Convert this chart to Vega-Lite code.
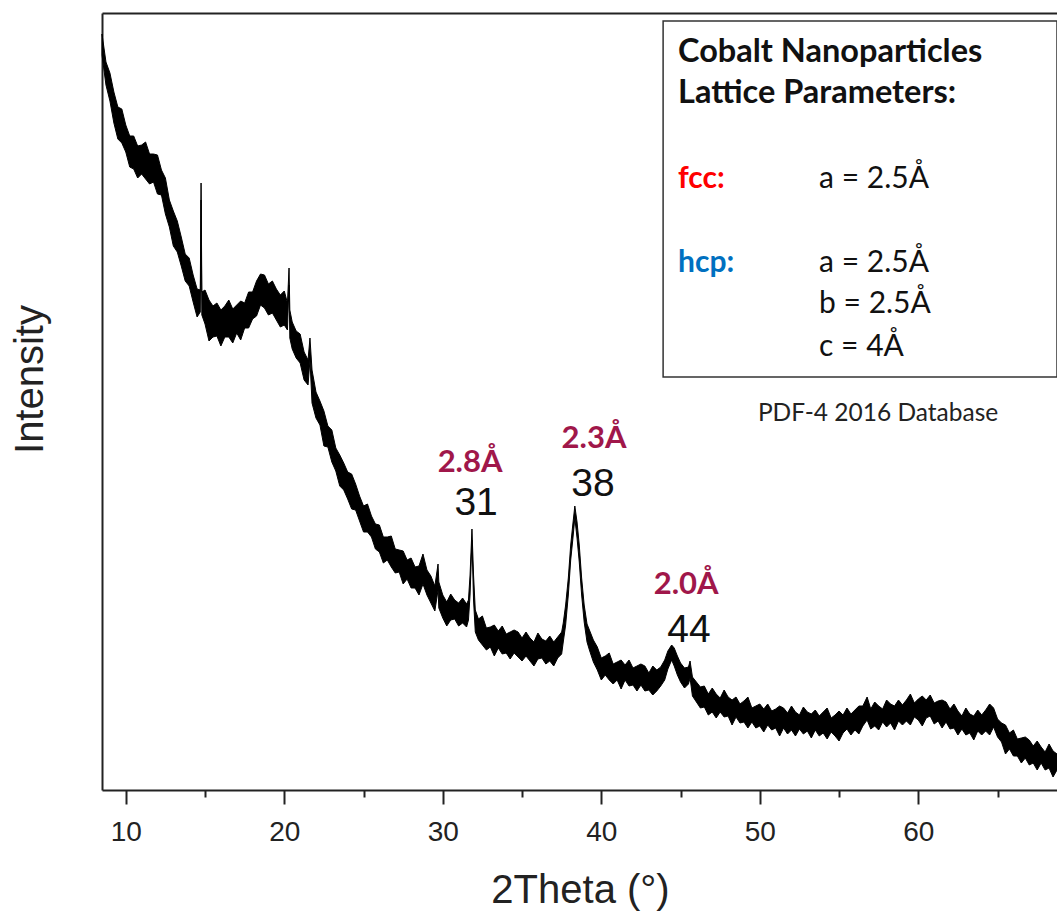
{
 "$schema": "https://vega.github.io/schema/vega-lite/v6.json",
 "width": 955, "height": 777,
 "autosize": {"type": "none"},
 "padding": {"left": 102, "top": 13, "right": 0, "bottom": 121},
 "background": "white",
 "config": {"view": {"stroke": null}, "font": "Liberation Sans"},
 "datasets": {
  "band": [
   {"t":8.5,"lo":735,"hi":756},{"t":8.75,"lo":705,"hi":728},{"t":9.0,"lo":689,"hi":717},{"t":9.25,"lo":667,"hi":698},
   {"t":9.5,"lo":651,"hi":683},{"t":9.75,"lo":647,"hi":681},{"t":10.0,"lo":638,"hi":665},{"t":10.25,"lo":623,"hi":654},
   {"t":10.5,"lo":621,"hi":654},{"t":10.75,"lo":612,"hi":644},{"t":11.0,"lo":616,"hi":645},{"t":11.25,"lo":611,"hi":648},
   {"t":11.5,"lo":606,"hi":636},{"t":11.75,"lo":608,"hi":636},{"t":12.0,"lo":596,"hi":635},{"t":12.25,"lo":595,"hi":620},
   {"t":12.5,"lo":576,"hi":612},{"t":12.75,"lo":563,"hi":590},{"t":13.0,"lo":544,"hi":579},{"t":13.25,"lo":538,"hi":569},
   {"t":13.5,"lo":524,"hi":553},{"t":13.75,"lo":509,"hi":536},{"t":14.0,"lo":504,"hi":532},{"t":14.25,"lo":488,"hi":515},
   {"t":14.5,"lo":473,"hi":501},{"t":14.7,"lo":478,"hi":500},{"t":14.75,"lo":590,"hi":607},{"t":14.8,"lo":475,"hi":498},
   {"t":15.0,"lo":466,"hi":500},{"t":15.25,"lo":449,"hi":490},{"t":15.5,"lo":453,"hi":484},{"t":15.75,"lo":454,"hi":487},
   {"t":16.0,"lo":444,"hi":480},{"t":16.25,"lo":453,"hi":484},{"t":16.5,"lo":453,"hi":490},{"t":16.75,"lo":447,"hi":481},
   {"t":17.0,"lo":457,"hi":485},{"t":17.25,"lo":450,"hi":489},{"t":17.5,"lo":462,"hi":487},{"t":17.75,"lo":462,"hi":498},
   {"t":18.0,"lo":471,"hi":498},{"t":18.25,"lo":474,"hi":509},{"t":18.5,"lo":485,"hi":516},{"t":18.75,"lo":482,"hi":515},
   {"t":19.0,"lo":475,"hi":506},{"t":19.25,"lo":477,"hi":509},{"t":19.5,"lo":470,"hi":501},{"t":19.75,"lo":463,"hi":495},
   {"t":20.0,"lo":465,"hi":499},{"t":20.2,"lo":460,"hi":487},{"t":20.3,"lo":505,"hi":522},{"t":20.35,"lo":452,"hi":480},
   {"t":20.5,"lo":441,"hi":468},{"t":20.75,"lo":432,"hi":459},{"t":21.0,"lo":427,"hi":456},{"t":21.25,"lo":410,"hi":438},
   {"t":21.5,"lo":405,"hi":430},{"t":21.62,"lo":430,"hi":452},{"t":21.75,"lo":387,"hi":420},{"t":22.0,"lo":372,"hi":398},
   {"t":22.25,"lo":365,"hi":389},{"t":22.5,"lo":344,"hi":379},{"t":22.75,"lo":343,"hi":364},{"t":23.0,"lo":328,"hi":360},
   {"t":23.25,"lo":319,"hi":342},{"t":23.5,"lo":304,"hi":335},{"t":23.75,"lo":300,"hi":327},{"t":24.0,"lo":291,"hi":318},
   {"t":24.25,"lo":281,"hi":316},{"t":24.5,"lo":280,"hi":306},{"t":24.75,"lo":269,"hi":294},{"t":25.0,"lo":258,"hi":284},
   {"t":25.25,"lo":258,"hi":286},{"t":25.5,"lo":253,"hi":274},{"t":25.75,"lo":241,"hi":266},{"t":26.0,"lo":238,"hi":265},
   {"t":26.25,"lo":227,"hi":253},{"t":26.5,"lo":230,"hi":253},{"t":26.75,"lo":223,"hi":254},{"t":27.0,"lo":217,"hi":241},
   {"t":27.25,"lo":218,"hi":240},{"t":27.5,"lo":206,"hi":239},{"t":27.75,"lo":211,"hi":230},{"t":28.0,"lo":202,"hi":232},
   {"t":28.25,"lo":202,"hi":223},{"t":28.5,"lo":195,"hi":224},{"t":28.75,"lo":206,"hi":236},{"t":29.0,"lo":195,"hi":220},
   {"t":29.25,"lo":187,"hi":214},{"t":29.5,"lo":179,"hi":204},{"t":29.7,"lo":200,"hi":226},{"t":29.75,"lo":182,"hi":208},
   {"t":30.0,"lo":172,"hi":195},{"t":30.25,"lo":164,"hi":188},{"t":30.5,"lo":170,"hi":196},{"t":30.75,"lo":171,"hi":190},
   {"t":31.0,"lo":164,"hi":187},{"t":31.25,"lo":167,"hi":192},{"t":31.5,"lo":163,"hi":186},{"t":31.62,"lo":170,"hi":190},
   {"t":31.72,"lo":195,"hi":215},{"t":31.84,"lo":250,"hi":261},{"t":31.94,"lo":190,"hi":215},{"t":32.05,"lo":158,"hi":180},
   {"t":32.25,"lo":150,"hi":171},{"t":32.5,"lo":145,"hi":174},{"t":32.75,"lo":140,"hi":162},{"t":33.0,"lo":143,"hi":163},
   {"t":33.25,"lo":134,"hi":165},{"t":33.5,"lo":142,"hi":159},{"t":33.75,"lo":136,"hi":164},{"t":34.0,"lo":137,"hi":156},
   {"t":34.25,"lo":131,"hi":158},{"t":34.5,"lo":137,"hi":160},{"t":34.75,"lo":133,"hi":158},{"t":35.0,"lo":129,"hi":152},
   {"t":35.25,"lo":134,"hi":158},{"t":35.5,"lo":129,"hi":152},{"t":35.75,"lo":124,"hi":148},{"t":36.0,"lo":131,"hi":157},
   {"t":36.25,"lo":132,"hi":151},{"t":36.5,"lo":126,"hi":149},{"t":36.75,"lo":129,"hi":154},{"t":37.0,"lo":124,"hi":148},
   {"t":37.25,"lo":132,"hi":153},{"t":37.5,"lo":136,"hi":158},{"t":37.6,"lo":148,"hi":167},{"t":37.75,"lo":165,"hi":185},
   {"t":37.92,"lo":195,"hi":212},{"t":38.07,"lo":230,"hi":245},{"t":38.2,"lo":250,"hi":265},{"t":38.33,"lo":272,"hi":284},
   {"t":38.47,"lo":252,"hi":268},{"t":38.61,"lo":228,"hi":245},{"t":38.76,"lo":195,"hi":212},{"t":38.92,"lo":168,"hi":185},
   {"t":39.1,"lo":148,"hi":166},{"t":39.25,"lo":140,"hi":160},{"t":39.5,"lo":128,"hi":150},{"t":39.75,"lo":120,"hi":143},
   {"t":40.0,"lo":110,"hi":132},{"t":40.25,"lo":115,"hi":134},{"t":40.5,"lo":110,"hi":137},{"t":40.75,"lo":106,"hi":126},
   {"t":41.0,"lo":110,"hi":128},{"t":41.25,"lo":101,"hi":130},{"t":41.5,"lo":110,"hi":125},{"t":41.75,"lo":104,"hi":130},
   {"t":42.0,"lo":105,"hi":122},{"t":42.25,"lo":99,"hi":124},{"t":42.5,"lo":105,"hi":126},{"t":42.75,"lo":99,"hi":124},
   {"t":43.0,"lo":100,"hi":117},{"t":43.25,"lo":95,"hi":124},{"t":43.5,"lo":99,"hi":120},{"t":43.75,"lo":104,"hi":123},
   {"t":44.0,"lo":110,"hi":130},{"t":44.2,"lo":121,"hi":139},{"t":44.44,"lo":130,"hi":145},{"t":44.6,"lo":124,"hi":142},
   {"t":44.8,"lo":115,"hi":134},{"t":45.0,"lo":108,"hi":127},{"t":45.25,"lo":102,"hi":122},{"t":45.5,"lo":106,"hi":123},
   {"t":45.6,"lo":112,"hi":129},{"t":45.75,"lo":94,"hi":113},{"t":46.0,"lo":88,"hi":108},{"t":46.25,"lo":82,"hi":103},
   {"t":46.5,"lo":83,"hi":104},{"t":46.75,"lo":75,"hi":96},{"t":47.0,"lo":78,"hi":102},{"t":47.25,"lo":72,"hi":96},
   {"t":47.5,"lo":78,"hi":92},{"t":47.75,"lo":73,"hi":100},{"t":48.0,"lo":74,"hi":93},{"t":48.25,"lo":65,"hi":90},
   {"t":48.5,"lo":73,"hi":93},{"t":48.75,"lo":67,"hi":86},{"t":49.0,"lo":68,"hi":89},{"t":49.25,"lo":62,"hi":93},
   {"t":49.5,"lo":68,"hi":82},{"t":49.75,"lo":62,"hi":84},{"t":50.0,"lo":64,"hi":86},{"t":50.25,"lo":58,"hi":81},
   {"t":50.5,"lo":65,"hi":86},{"t":50.75,"lo":60,"hi":79},{"t":51.0,"lo":62,"hi":81},{"t":51.25,"lo":54,"hi":84},
   {"t":51.5,"lo":62,"hi":82},{"t":51.75,"lo":56,"hi":77},{"t":52.0,"lo":60,"hi":84},{"t":52.25,"lo":54,"hi":78},
   {"t":52.5,"lo":61,"hi":75},{"t":52.75,"lo":56,"hi":83},{"t":53.0,"lo":59,"hi":78},{"t":53.25,"lo":52,"hi":76},
   {"t":53.5,"lo":60,"hi":80},{"t":53.75,"lo":54,"hi":74},{"t":54.0,"lo":57,"hi":78},{"t":54.25,"lo":51,"hi":82},
   {"t":54.5,"lo":58,"hi":72},{"t":54.75,"lo":54,"hi":75},{"t":55.0,"lo":49,"hi":79},{"t":55.25,"lo":57,"hi":75},
   {"t":55.5,"lo":61,"hi":82},{"t":55.75,"lo":55,"hi":76},{"t":56.0,"lo":60,"hi":80},{"t":56.25,"lo":56,"hi":84},
   {"t":56.5,"lo":64,"hi":84},{"t":56.77,"lo":70,"hi":93},{"t":57.0,"lo":61,"hi":81},{"t":57.25,"lo":64,"hi":88},
   {"t":57.5,"lo":60,"hi":84},{"t":57.75,"lo":68,"hi":81},{"t":58.0,"lo":63,"hi":90},{"t":58.25,"lo":67,"hi":86},
   {"t":58.5,"lo":60,"hi":84},{"t":58.75,"lo":69,"hi":90},{"t":59.0,"lo":65,"hi":85},{"t":59.25,"lo":69,"hi":90},
   {"t":59.5,"lo":65,"hi":96},{"t":59.75,"lo":73,"hi":87},{"t":60.0,"lo":70,"hi":91},{"t":60.25,"lo":64,"hi":94},
   {"t":60.5,"lo":72,"hi":90},{"t":60.75,"lo":74,"hi":95},{"t":61.0,"lo":66,"hi":87},{"t":61.25,"lo":69,"hi":89},
   {"t":61.5,"lo":62,"hi":90},{"t":61.75,"lo":68,"hi":88},{"t":62.0,"lo":61,"hi":81},{"t":62.25,"lo":62,"hi":86},
   {"t":62.5,"lo":55,"hi":79},{"t":62.75,"lo":61,"hi":74},{"t":63.0,"lo":55,"hi":82},{"t":63.25,"lo":57,"hi":76},
   {"t":63.5,"lo":50,"hi":74},{"t":63.75,"lo":59,"hi":80},{"t":64.0,"lo":55,"hi":75},{"t":64.25,"lo":59,"hi":80},
   {"t":64.5,"lo":55,"hi":86},{"t":64.75,"lo":63,"hi":82},{"t":65.0,"lo":53,"hi":71},{"t":65.25,"lo":48,"hi":67},
   {"t":65.5,"lo":36,"hi":65},{"t":65.75,"lo":41,"hi":57},{"t":66.0,"lo":34,"hi":60},{"t":66.25,"lo":34,"hi":51},
   {"t":66.5,"lo":27,"hi":52},{"t":66.75,"lo":32,"hi":53},{"t":67.0,"lo":25,"hi":50},{"t":67.25,"lo":27,"hi":44},
   {"t":67.5,"lo":20,"hi":49},{"t":67.75,"lo":27,"hi":43},{"t":68.0,"lo":20,"hi":38},{"t":68.25,"lo":22,"hi":46},
   {"t":68.5,"lo":13,"hi":39},{"t":68.75,"lo":20,"hi":36}
  ]
 },
 "resolve": {"axis": {"x": "independent", "y": "independent"}},
 "layer": [
  {
   "data": {"values": [{"t": 43.9, "t2": 68.75, "v": 413, "v2": 769}]},
   "mark": {"type": "rect", "fill": "white", "stroke": "#333333", "strokeWidth": 1.5},
   "encoding": {
    "x": {"field": "t", "type": "quantitative", "scale": {"domain": [8.5, 68.75], "nice": false, "zero": false},
          "axis": {"orient": "top", "labels": false, "ticks": false, "grid": false, "domain": true, "domainColor": "#222222", "domainWidth": 2, "title": null}},
    "x2": {"field": "t2"},
    "y": {"field": "v", "type": "quantitative", "scale": {"domain": [0, 777], "nice": false, "zero": false}, "axis": null},
    "y2": {"field": "v2"}
   }
  },
  {
   "data": {"name": "band"},
   "mark": {"type": "area", "color": "#000000", "stroke": "#000000", "strokeWidth": 1, "interpolate": "linear"},
   "encoding": {
    "x": {"field": "t", "type": "quantitative", "scale": {"domain": [8.5, 68.75], "nice": false, "zero": false},
          "axis": {"orient": "bottom", "values": [10, 15, 20, 25, 30, 35, 40, 45, 50, 55, 60, 65],
                   "labelExpr": "datum.value % 10 === 0 ? datum.label : ''",
                   "tickSize": {"condition": {"test": "datum.value % 10 === 0", "value": 14}, "value": 7},
                   "tickWidth": 2, "tickColor": "#222222", "domainColor": "#222222", "domainWidth": 2, "grid": false,
                   "labelFontSize": 28, "labelColor": "#222222", "labelFont": "Liberation Sans", "labelPadding": 14,
                   "labelFlush": false, "labelOverlap": false,
                   "title": "2Theta (°)", "titleFontSize": 40, "titleFontWeight": "normal", "titleFont": "Liberation Sans",
                   "titleColor": "#222222", "titleX": 478, "titleY": 112, "titleBaseline": "alphabetic"}},
    "y": {"field": "lo", "type": "quantitative", "scale": {"domain": [0, 777], "nice": false, "zero": false},
          "axis": {"orient": "left", "labels": false, "ticks": false, "grid": false, "domainColor": "#222222", "domainWidth": 2,
                   "title": "Intensity", "titleFontSize": 40, "titleFontWeight": "normal", "titleFont": "Liberation Sans",
                   "titleColor": "#222222", "titleX": -60, "titleY": 366, "titleBaseline": "alphabetic", "titleAngle": 270}},
    "y2": {"field": "hi"}
   }
  },
  {
   "data": {"values": [{"t": 44.84, "v": 728, "label": "Cobalt Nanoparticles"}, {"t": 44.84, "v": 687, "label": "Lattice Parameters:"}]},
   "mark": {"type": "text", "align": "left", "baseline": "alphabetic", "font": "Lato", "fontWeight": "bold", "fontSize": 32.5, "color": "#111111"},
   "encoding": {
    "x": {"field": "t", "type": "quantitative", "scale": {"domain": [8.5, 68.75], "nice": false, "zero": false}, "axis": null},
    "y": {"field": "v", "type": "quantitative", "scale": {"domain": [0, 777], "nice": false, "zero": false}, "axis": null},
    "text": {"field": "label"}
   }
  },
  {
   "data": {"values": [{"t": 44.84, "v": 602, "label": "fcc:"}]},
   "mark": {"type": "text", "align": "left", "baseline": "alphabetic", "font": "Lato", "fontWeight": "bold", "fontSize": 30, "color": "#FF0000"},
   "encoding": {
    "x": {"field": "t", "type": "quantitative", "scale": {"domain": [8.5, 68.75], "nice": false, "zero": false}, "axis": null},
    "y": {"field": "v", "type": "quantitative", "scale": {"domain": [0, 777], "nice": false, "zero": false}, "axis": null},
    "text": {"field": "label"}
   }
  },
  {
   "data": {"values": [{"t": 44.84, "v": 518, "label": "hcp:"}]},
   "mark": {"type": "text", "align": "left", "baseline": "alphabetic", "font": "Lato", "fontWeight": "bold", "fontSize": 30, "color": "#0070C0"},
   "encoding": {
    "x": {"field": "t", "type": "quantitative", "scale": {"domain": [8.5, 68.75], "nice": false, "zero": false}, "axis": null},
    "y": {"field": "v", "type": "quantitative", "scale": {"domain": [0, 777], "nice": false, "zero": false}, "axis": null},
    "text": {"field": "label"}
   }
  },
  {
   "data": {"values": [{"t": 53.74, "v": 602, "label": "a = 2.5Å"}, {"t": 53.74, "v": 518, "label": "a = 2.5Å"}, {"t": 53.74, "v": 477, "label": "b = 2.5Å"}, {"t": 53.74, "v": 434, "label": "c = 4Å"}]},
   "mark": {"type": "text", "align": "left", "baseline": "alphabetic", "font": "Lato", "fontSize": 30, "color": "#111111"},
   "encoding": {
    "x": {"field": "t", "type": "quantitative", "scale": {"domain": [8.5, 68.75], "nice": false, "zero": false}, "axis": null},
    "y": {"field": "v", "type": "quantitative", "scale": {"domain": [0, 777], "nice": false, "zero": false}, "axis": null},
    "text": {"field": "label"}
   }
  },
  {
   "data": {"values": [{"t": 57.46, "v": 369, "label": "PDF-4 2016 Database"}]},
   "mark": {"type": "text", "align": "center", "baseline": "alphabetic", "font": "Lato", "fontSize": 24.5, "color": "#222222"},
   "encoding": {
    "x": {"field": "t", "type": "quantitative", "scale": {"domain": [8.5, 68.75], "nice": false, "zero": false}, "axis": null},
    "y": {"field": "v", "type": "quantitative", "scale": {"domain": [0, 777], "nice": false, "zero": false}, "axis": null},
    "text": {"field": "label"}
   }
  },
  {
   "data": {"values": [{"t": 31.72, "v": 318, "label": "2.8Å"}, {"t": 39.54, "v": 342, "label": "2.3Å"}, {"t": 45.35, "v": 196, "label": "2.0Å"}]},
   "mark": {"type": "text", "align": "center", "baseline": "alphabetic", "font": "Lato", "fontWeight": "bold", "fontSize": 31, "color": "#A0174A"},
   "encoding": {
    "x": {"field": "t", "type": "quantitative", "scale": {"domain": [8.5, 68.75], "nice": false, "zero": false}, "axis": null},
    "y": {"field": "v", "type": "quantitative", "scale": {"domain": [0, 777], "nice": false, "zero": false}, "axis": null},
    "text": {"field": "label"}
   }
  },
  {
   "data": {"values": [{"t": 32.1, "v": 275, "label": "31"}, {"t": 39.48, "v": 294, "label": "38"}, {"t": 45.53, "v": 148, "label": "44"}]},
   "mark": {"type": "text", "align": "center", "baseline": "alphabetic", "font": "Liberation Sans", "fontSize": 39, "color": "#111111"},
   "encoding": {
    "x": {"field": "t", "type": "quantitative", "scale": {"domain": [8.5, 68.75], "nice": false, "zero": false}, "axis": null},
    "y": {"field": "v", "type": "quantitative", "scale": {"domain": [0, 777], "nice": false, "zero": false}, "axis": null},
    "text": {"field": "label"}
   }
  }
 ]
}
